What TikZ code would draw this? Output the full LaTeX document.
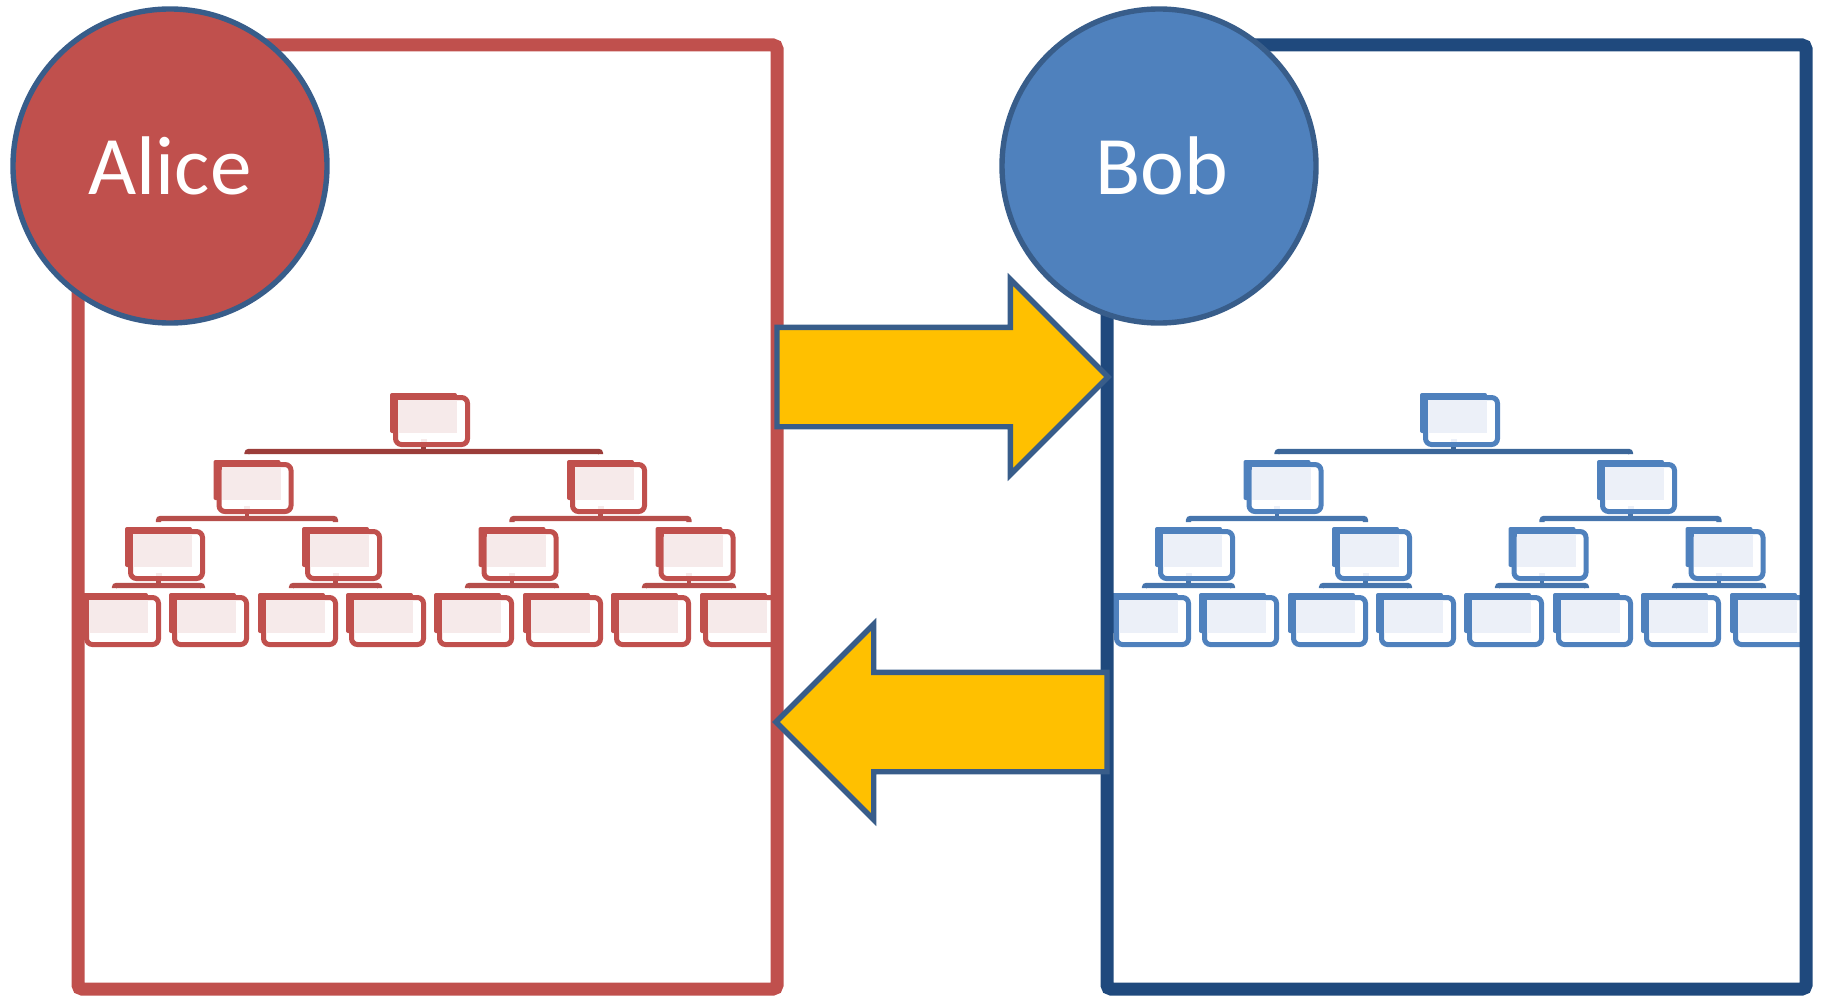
\documentclass[tikz,border=0pt]{standalone}
\usepackage{fontspec}
\setmainfont{Carlito}
\usetikzlibrary{calc,shapes.arrows}
\definecolor{alicered}{HTML}{C0504D}
\definecolor{alicedark}{HTML}{9B3D3A}
\definecolor{alicemid}{HTML}{B64E4B}
\definecolor{alicetint}{HTML}{F6EAEA}
\definecolor{bobblue}{HTML}{4F81BD}
\definecolor{bobdark}{HTML}{3B6699}
\definecolor{bobmid}{HTML}{4675AD}
\definecolor{bobtint}{HTML}{ECF0F8}
\definecolor{bobframecol}{HTML}{1F497D}
\definecolor{edgeblue}{HTML}{385D8A}
\definecolor{arrowgold}{HTML}{FFC000}
\tikzset{
  a back/.style={fill=alicered},
  a box/.style={draw=alicered},
  a tint/.style={fill=alicetint},
  a root/.style={draw=alicedark},
  a tree/.style={draw=alicemid},
  b back/.style={fill=bobblue},
  b box/.style={draw=bobblue},
  b tint/.style={fill=bobtint},
  b root/.style={draw=bobdark},
  b tree/.style={draw=bobmid},
  backbox/.style={rectangle,inner sep=0pt,minimum width=33.5pt,minimum height=20pt,rounded corners=1pt},
  frontbox/.style={rectangle,inner sep=0pt,minimum width=36pt,minimum height=23.5pt,fill=white,line width=2.5pt,rounded corners=3pt},
  framebox/.style={rectangle,inner sep=0pt,outer sep=0pt,minimum width=349.5pt,minimum height=472pt,line width=6.5pt,rounded corners=2pt},
  person/.style={circle,inner sep=0pt,minimum size=157pt,draw=edgeblue,line width=2.7pt,text=white,font=\fontsize{41.6}{50}\selectfont},
  blockarrow/.style={single arrow,inner sep=0pt,outer sep=0pt,text height=47pt,text depth=0pt,fill=arrowgold,draw=edgeblue,line width=2.7pt,minimum width=95pt,minimum height=165.5pt,single arrow head extend=24pt,single arrow tip angle=90,anchor=tail},
  barline/.style={line width=2.6pt,rounded corners=1pt},
  stemline/.style={line width=2.2pt}
}
\begin{document}
\begin{tikzpicture}[x=0.5pt,y=-0.5pt]
\useasboundingbox (0,0) rectangle (1823,995);
\def\rowa{413} %row of the root
\def\rowb{480}
\def\rowc{547}
\def\rowd{613} %row of the leaves

\foreach \t/\s in {a/0,b/1030} %one tree per person, shifted in x
{
  \foreach \n/\x/\y in {1/423.5/\rowa,
                        2/247/\rowb,3/600.5/\rowb,
                        4/158.5/\rowc,5/335.5/\rowc,6/512/\rowc,7/689/\rowc,
                        8/114.5/\rowd,9/202.5/\rowd,10/291.5/\rowd,11/379.5/\rowd,
                        12/467.5/\rowd,13/556.5/\rowd,14/644.5/\rowd,15/733.5/\rowd}
  {
    \node[backbox,\t\space back] (\t\n b) at (\x+\s,\y) {};
    \node[frontbox,\t\space box] (\t\n) at ($(\t\n b)+(8,8)$) {};
    \fill[\t\space tint] ($(\t\n.north west)+(5,5)$) rectangle (\t\n b.south east);
  }
  \foreach \p/\u/\v/\k/\g in {1/2/3/root/5.5,2/4/5/tree/4.5,3/6/7/tree/4.5,4/8/9/tree/4.5,5/10/11/tree/4.5,6/12/13/tree/4.5,7/14/15/tree/4.5}
  {
    \draw[barline,\t\space\k] ($(\t\u b.north)+(0,-\g)$) |- ($(\t\p b.south)+(0,18)$) -| ($(\t\v b.north)+(0,-\g)$);
    \draw[stemline,\t\space\k] (\t\p b.south |- \t\p.south) -- ($(\t\p b.south)+(0,18)$);
    \fill[\t\space tint] ($(\t\p b.south)+(-3,6)$) rectangle ($(\t\p b.south)+(3,9)$);
  }
}

\node[framebox,draw=alicered] (aliceframe) at (427.5,517) {};
\node[framebox,draw=bobframecol] (bobframe) at (1456.5,517) {};

\node[blockarrow] (sendarrow) at ($(aliceframe.east)+(0,-140)$) {};
\node[blockarrow,shape border rotate=180] (replyarrow) at ($(bobframe.west)+(0,205)$) {};

\node[person,fill=alicered] (alice) at (170,166) {Alice};
\node[person,fill=bobblue] (bob) at (1159,166) {\hspace*{3pt}Bob};
\end{tikzpicture}
\end{document}
